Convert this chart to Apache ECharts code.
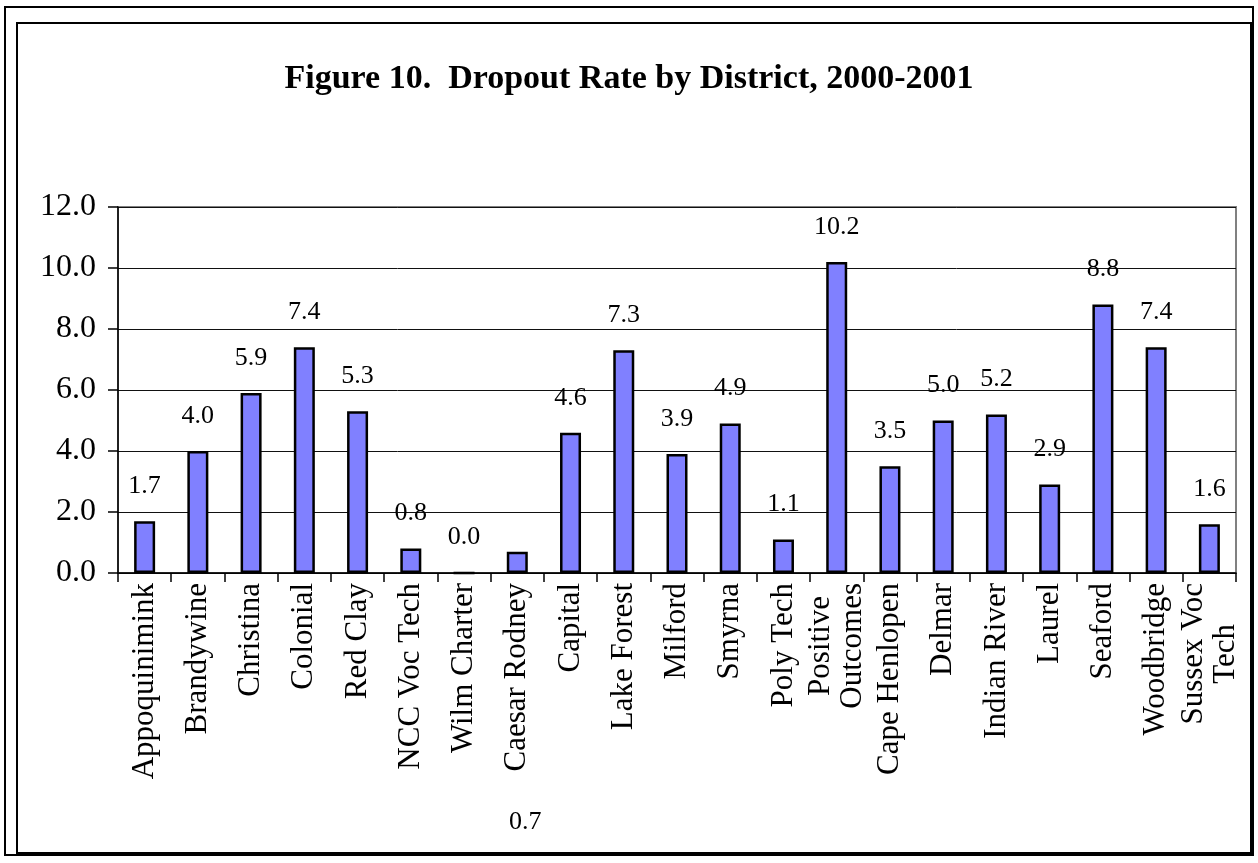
<!DOCTYPE html>
<html>
<head>
<meta charset="utf-8">
<script src="https://cdn.jsdelivr.net/npm/echarts@6/dist/echarts.min.js"></script>
<style>
html,body{margin:0;padding:0;background:#fff;}
#chart{width:1258px;height:863px;}
</style>
</head>
<body>
<div id="chart"></div>
<script>
const titleText = 'Figure 10.  Dropout Rate by District, 2000-2001';
const districts = ['Appoquinimink','Brandywine','Christina','Colonial','Red Clay','NCC Voc Tech','Wilm Charter','Caesar Rodney','Capital','Lake Forest','Milford','Smyrna','Poly Tech','Positive\nOutcomes','Cape Henlopen','Delmar','Indian River','Laurel','Seaford','Woodbridge','Sussex Voc\nTech'];
const dropoutRates = [1.7, 4.0, 5.9, 7.4, 5.3, 0.8, 0.0, 0.7, 4.6, 7.3, 3.9, 4.9, 1.1, 10.2, 3.5, 5.0, 5.2, 2.9, 8.8, 7.4, 1.6];
const yTicks = [0, 2, 4, 6, 8, 10, 12];

const FONT = '"Liberation Serif", "Times New Roman", serif';
const CAT_FONT_SIZE = 31;
const CAT_LINE_HEIGHT = 32;

// Multi-line category labels: centre each line by giving shorter lines a right padding (rich text)
const measureCtx = document.createElement('canvas').getContext('2d');
measureCtx.font = CAT_FONT_SIZE + 'px ' + FONT;
const catRich = {};
const catLabelText = {};
let richIdx = 0;
districts.forEach(name => {
  const lines = name.split('\n');
  if (lines.length < 2) return;
  const widths = lines.map(l => measureCtx.measureText(l).width);
  const maxW = Math.max(...widths);
  catLabelText[name] = lines.map((l, i) => {
    const key = 'r' + (richIdx++);
    catRich[key] = {
      fontFamily: FONT, fontSize: CAT_FONT_SIZE, color: '#000', lineHeight: CAT_LINE_HEIGHT,
      padding: [0, Math.round((maxW - widths[i]) / 2), 0, 0]
    };
    return '{' + key + '|' + l + '}';
  }).join('\n');
});

const seriesData = dropoutRates.map((v, i) => {
  if (districts[i] === 'Caesar Rodney') {
    return { value: v, label: { position: 'bottom', distance: 236, offset: [8, 0] } };
  }
  return v;
});

const chart = echarts.init(document.getElementById('chart'));
chart.setOption({
  backgroundColor: '#ffffff',
  animation: false,
  title: {
    text: titleText,
    left: 'center',
    top: 62,
    padding: 0,
    textStyle: { fontFamily: FONT, fontWeight: 'bold', fontSize: 34, color: '#000' }
  },
  graphic: [
    { type: 'rect', shape: { x: 5, y: 7, width: 1248, height: 848 }, style: { fill: null, stroke: '#000', lineWidth: 2 }, silent: true },
    { type: 'rect', shape: { x: 17, y: 23, width: 1234, height: 830 }, style: { fill: null, stroke: '#000', lineWidth: 2 }, silent: true }
  ],
  grid: {
    left: 118, right: 22, top: 207, bottom: 290,
    show: true, borderColor: '#808080', borderWidth: 2, backgroundColor: 'transparent'
  },
  xAxis: {
    type: 'category',
    data: districts,
    axisLine: { lineStyle: { color: '#000', width: 1.5 } },
    axisTick: { show: true, length: 9, lineStyle: { color: '#000', width: 1.5 } },
    axisLabel: {
      rotate: 90, interval: 0, margin: 10,
      fontFamily: FONT, fontSize: CAT_FONT_SIZE, color: '#000', lineHeight: CAT_LINE_HEIGHT,
      formatter: v => catLabelText[v] || v,
      rich: catRich
    },
    splitLine: { show: false }
  },
  yAxis: {
    type: 'value',
    min: yTicks[0], max: yTicks[yTicks.length - 1], interval: 2,
    axisLine: { show: true, lineStyle: { color: '#000', width: 1.5 } },
    axisTick: { show: true, length: 10, lineStyle: { color: '#000', width: 1.5 } },
    axisLabel: {
      margin: 22, fontFamily: FONT, fontSize: 32, color: '#000',
      formatter: v => v.toFixed(1)
    },
    splitLine: { show: true, lineStyle: { color: '#111', width: 1 } }
  },
  series: [{
    type: 'bar',
    data: seriesData,
    barWidth: 21,
    itemStyle: { color: '#8080FF', borderColor: '#000', borderWidth: 2.5 },
    label: {
      show: true, position: 'top', distance: 22,
      fontFamily: FONT, fontSize: 26, color: '#000',
      formatter: p => Number(p.value).toFixed(1)
    }
  }]
});
</script>
</body>
</html>
